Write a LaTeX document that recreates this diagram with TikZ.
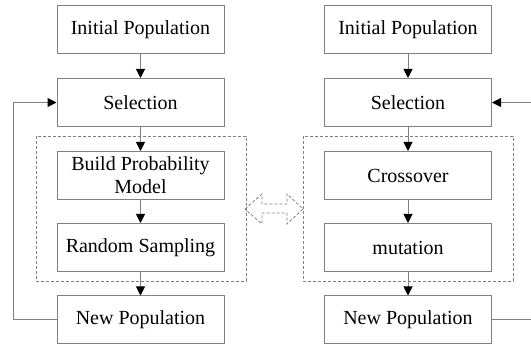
\documentclass[tikz,border=0pt]{standalone}
\usepackage{fontspec}
\setmainfont{Liberation Serif}
\usetikzlibrary{arrows.meta}
\begin{document}
\begin{tikzpicture}[x=1pt, y=-1pt,
    caja/.style={draw=gray, line width=1pt, minimum width=167pt, minimum height=48pt,
        inner sep=0pt, align=center, font=\fontsize{20}{23}\selectfont},
    flecha/.style={draw=gray, line width=1pt, -{Triangle[length=9pt, width=9pt, color=black]}},
    linea/.style={draw=gray, line width=1pt},
    marco/.style={draw=gray, line width=0.8pt, dash pattern=on 3pt off 2pt}]
    \useasboundingbox (0,0) rectangle (531,347);
    % Columna izquierda
    \node[caja] (ini1) at (140.5,30) {Initial Population};
    \node[caja] (sel1) at (140.5,102.5) {Selection};
    \node[caja] (mod1) at (140.5,175.5) {Build Probability\\Model};
    \node[caja] (sam1) at (140.5,247.5) {Random Sampling};
    \node[caja] (new1) at (140.5,320) {New Population};
    \draw[marco] (36,136) rectangle (246,281);
    % Columna derecha
    \node[caja] (ini2) at (408,30) {Initial Population};
    \node[caja] (sel2) at (408,102.5) {Selection};
    \node[caja] (cro2) at (408,175.5) {Crossover};
    \node[caja] (mut2) at (408,247.5) {mutation};
    \node[caja] (new2) at (408,320) {New Population};
    \draw[marco] (303,136) rectangle (513,281);
    % Conexiones
    \draw[flecha] (ini1) -- (sel1);
    \draw[flecha] (sel1) -- (mod1);
    \draw[flecha] (mod1) -- (sam1);
    \draw[flecha] (sam1) -- (new1);
    \draw[flecha] (new1.west) -- ++(-43,0) |- (sel1.west);
    \draw[flecha] (ini2) -- (sel2);
    \draw[flecha] (sel2) -- (cro2);
    \draw[flecha] (cro2) -- (mut2);
    \draw[flecha] (mut2) -- (new2);
    \coordinate (der1) at (531,102.5);
    \coordinate (der2) at (531,320);
    \draw[flecha] (der1) -- (sel2.east);
    \draw[linea] (new2.east) -- (der2);
    % Flecha doble
    \draw[marco] (245,209) -- (262,194) -- (262,204) -- (287,204) -- (287,194) -- (303,209)
        -- (287,224) -- (287,213) -- (262,213) -- (262,224) -- cycle;
\end{tikzpicture}
\end{document}
